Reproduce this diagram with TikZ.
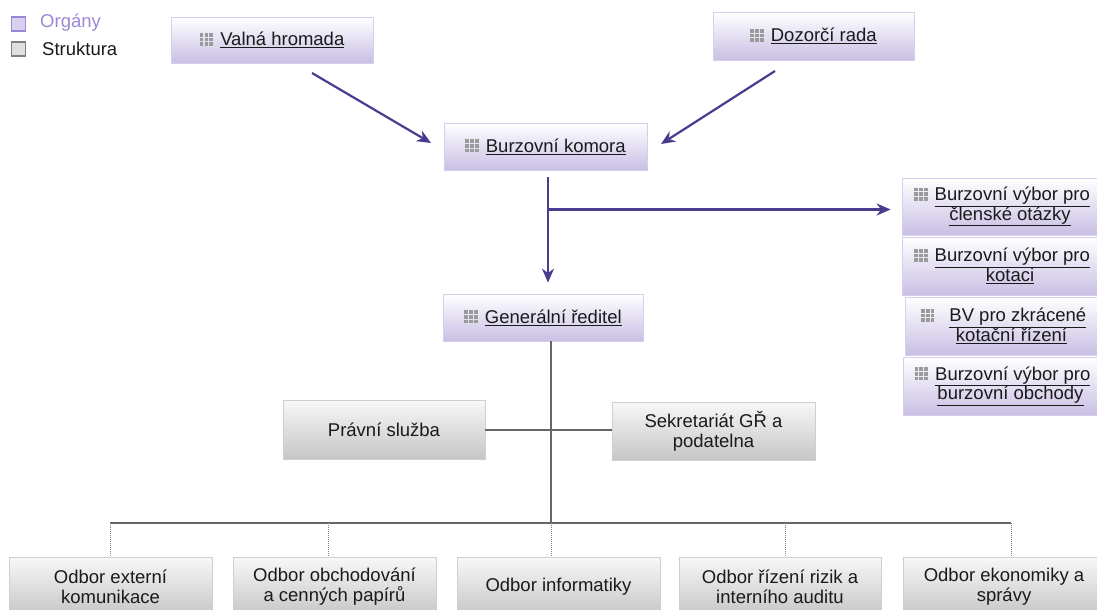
\documentclass[tikz,border=0pt]{standalone}
\usepackage{fontspec}
\setmainfont{Liberation Sans}
\usetikzlibrary{arrows.meta}
\definecolor{arrc}{HTML}{4B3A8E}
\definecolor{purbot}{HTML}{C9BFE4}
\definecolor{purbrd}{HTML}{D6CEEE}
\definecolor{grybot}{HTML}{C6C6C6}
\definecolor{grybrd}{HTML}{CFCFCF}
\definecolor{txtc}{HTML}{1A1A1A}
\definecolor{legpur}{HTML}{9B87D8}
\definecolor{iconc}{HTML}{9A9A9A}
\newcommand\dotrow{\rule{3.8pt}{3.6pt}\hspace{1.1pt}\rule{3.8pt}{3.6pt}\hspace{1.1pt}\rule{3.8pt}{3.6pt}}
\newcommand\gicon{{\color{iconc}\raisebox{0pt}{\vbox{\baselineskip=4.6pt\lineskip=0pt\hbox{\dotrow}\hbox{\dotrow}\hbox{\dotrow}}}}\hspace{7pt}}
\tikzset{
  organ/.style={rectangle, draw=purbrd, line width=0.8pt, top color=white, bottom color=purbot,
    inner sep=0pt, text=txtc, align=center, font=\fontsize{18.5}{19.5}\selectfont},
  struct/.style={rectangle, draw=grybrd, line width=0.8pt, top color=white!97!black, bottom color=grybot,
    inner sep=0pt, text=txtc, align=center, font=\fontsize{18.5}{20}\selectfont},
  arr/.style={draw=arrc, line width=2.2pt, -{Stealth[length=14pt,width=12pt,inset=4.5pt]}},
  conn/.style={draw=gray!80!black, line width=2pt},
  dotconn/.style={draw=gray, line width=0.8pt, dash pattern=on 1pt off 1pt},
  legbox/.style={rectangle, line width=1.3pt, minimum size=14pt, inner sep=0pt},
  legtxt/.style={anchor=west, inner sep=0pt, font=\fontsize{18.5}{19}\selectfont}
}
\begin{document}
\begin{tikzpicture}[x=1pt,y=-1pt]
\useasboundingbox (0,0) rectangle (1097,610);
% legend
\node[legbox, draw=legpur, fill=purbot!70!white] (lg1) at (18.5,24) {};
\node[legtxt, text=legpur] (lt1) at (40,23) {Orgány};
\node[legbox, draw=gray, fill=gray!25!white] (lg2) at (18.5,49) {};
\node[legtxt, text=txtc] (lt2) at (42,49) {Struktura};
% organs
\node[organ, minimum width=202pt, minimum height=46pt] (vh) at (272,40) {\gicon\underline{Valná hromada}};
\node[organ, minimum width=201pt, minimum height=48pt] (dr) at (813.5,36) {\gicon\underline{Dozorčí rada}};
\node[organ, minimum width=203pt, minimum height=47pt] (bk) at (545.5,146.5) {\gicon\underline{Burzovní komora}};
\node[organ, minimum width=200pt, minimum height=47pt] (gr) at (543,317.5) {\gicon\underline{Generální ředitel}};
\node[organ, minimum width=200pt, minimum height=57pt] (c1) at (1002,206.5) {\gicon\underline{Burzovní výbor pro}\\\hspace*{16pt}\underline{členské otázky}};
\node[organ, minimum width=200pt, minimum height=58pt] (c2) at (1002,266) {\gicon\underline{Burzovní výbor pro}\\\hspace*{16pt}\underline{kotaci}};
\node[organ, minimum width=197pt, minimum height=58pt] (c3) at (1003.5,326) {\gicon\hspace{8pt}\underline{BV pro zkrácené}\\\hspace*{16pt}\underline{kotační řízení}};
\node[organ, minimum width=199pt, minimum height=58pt] (c4) at (1002.5,386) {\gicon\underline{Burzovní výbor pro}\\\hspace*{16pt}\underline{burzovní obchody}};
% structure
\node[struct, minimum width=202pt, minimum height=59pt] (ps) at (384,429.5) {Právní služba};
\node[struct, minimum width=203pt, minimum height=58pt] (sk) at (713.5,431) {Sekretariát GŘ a\\podatelna};
\node[struct, minimum width=203pt, minimum height=59pt] (o1) at (110.5,586.5) {Odbor externí\\komunikace};
\node[struct, minimum width=203pt, minimum height=59pt] (o2) at (334.5,586.5) {Odbor obchodování\\a cenných papírů};
\node[struct, minimum width=203pt, minimum height=59pt] (o3) at (558.5,586.5) {Odbor informatiky};
\node[struct, minimum width=202pt, minimum height=59pt] (o4) at (780,586.5) {Odbor řízení rizik a\\interního auditu};
\node[struct, minimum width=202pt, minimum height=59pt] (o5) at (1004,586.5) {Odbor ekonomiky a\\správy};
% arrows
\coordinate (a1s) at (312,73);
\coordinate (a1e) at (431,143);
\coordinate (a2s) at (775,71);
\coordinate (a2e) at (661,144);
\coordinate (ax) at (548,0);
\coordinate (br) at (548,209.5);
\draw[arr] (a1s) -- (a1e);
\draw[arr] (a2s) -- (a2e);
\draw[arr, shorten <=7pt, shorten >=11pt] (bk.south -| ax) -- (gr.north -| ax);
\draw[arr, shorten >=11pt] (br) -- (br -| c1.west);
% structure connectors
\coordinate (jt) at (550.5,523);
\coordinate (j1) at (110,523);
\coordinate (j2) at (328,523);
\coordinate (j3) at (551,523);
\coordinate (j4) at (785,523);
\coordinate (j5) at (1011,523);
\draw[conn] (gr.south -| jt) -- (jt);
\draw[conn] (ps.east) -- (ps.east -| sk.west);
\draw[conn] (j1) -- (j5);
\draw[dotconn] (j1) -- (j1 |- o1.north);
\draw[dotconn] (j2) -- (j2 |- o2.north);
\draw[dotconn] (j3) -- (j3 |- o3.north);
\draw[dotconn] (j4) -- (j4 |- o4.north);
\draw[dotconn] (j5) -- (j5 |- o5.north);
\end{tikzpicture}
\end{document}
